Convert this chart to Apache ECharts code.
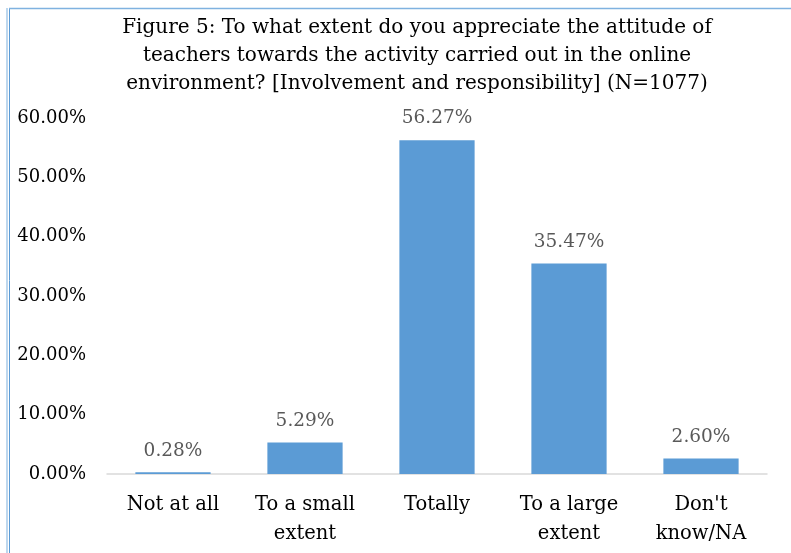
<!DOCTYPE html>
<html>
<head>
<meta charset="utf-8">
<script src="https://cdn.jsdelivr.net/npm/echarts@6/dist/echarts.min.js"></script>
<style>
  html, body { margin: 0; padding: 0; background: #fff; }
  #chart { width: 791px; height: 553px; }
</style>
</head>
<body>
<div id="chart"></div>
<script>
// Responses, share of N=1077
const categories = ['Not at all', 'To a small\nextent', 'Totally', 'To a large\nextent', "Don't\nknow/NA"];
const shares = [0.28, 5.29, 56.27, 35.47, 2.60];
const yTicks = { min: 0, max: 60, step: 10 };
const titleLines = [
  'Figure 5: To what extent do you appreciate the attitude of',
  'teachers towards the activity carried out in the online',
  'environment? [Involvement and responsibility] (N=1077)'
];

const FONT = 'DejaVu Serif';
const chart = echarts.init(document.getElementById('chart'));

chart.setOption({
  animation: false,
  backgroundColor: '#ffffff',
  title: {
    text: titleLines.join('\n'),
    left: 412,
    textAlign: 'center',
    top: 9,
    textStyle: {
      fontFamily: FONT,
      fontSize: 20,
      fontWeight: 'normal',
      color: '#000000',
      lineHeight: 28
    }
  },
  grid: { left: 107, right: 24, top: 118, bottom: 79, containLabel: false },
  xAxis: {
    type: 'category',
    data: categories,
    axisLine: { lineStyle: { color: '#D9D9D9', width: 1.5 } },
    axisTick: { show: false },
    axisLabel: {
      interval: 0,
      margin: 16,
      fontFamily: FONT,
      fontSize: 19.5,
      color: '#000000',
      lineHeight: 29
    }
  },
  yAxis: {
    type: 'value',
    min: yTicks.min,
    max: yTicks.max,
    interval: yTicks.step,
    splitLine: { show: false },
    axisLine: { show: false },
    axisTick: { show: false },
    axisLabel: {
      margin: 21,
      fontFamily: FONT,
      fontSize: 18,
      color: '#000000',
      formatter: v => v.toFixed(2) + '%'
    }
  },
  series: [{
    type: 'bar',
    data: shares,
    barWidth: '57%',
    itemStyle: { color: '#5B9BD5' },
    label: {
      show: true,
      position: 'top',
      distance: 12,
      fontFamily: FONT,
      fontSize: 18.5,
      color: '#595959',
      formatter: p => p.value.toFixed(2) + '%'
    }
  }],
  graphic: [
    { type: 'line', shape: { x1: 7, y1: 8, x2: 7, y2: 553 }, style: { stroke: '#BDD7EE', lineWidth: 2 } },
    { type: 'line', shape: { x1: 9.5, y1: 8, x2: 9.5, y2: 553 }, style: { stroke: '#5B9BD5', lineWidth: 1 } },
    { type: 'line', shape: { x1: 9, y1: 8.5, x2: 791, y2: 8.5 }, style: { stroke: '#7FB2E0', lineWidth: 1.5 } }
  ]
});
</script>
</body>
</html>
